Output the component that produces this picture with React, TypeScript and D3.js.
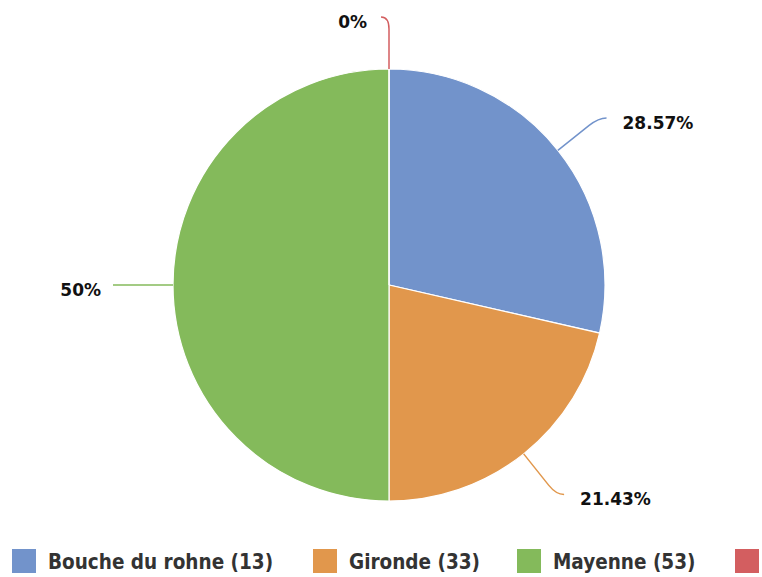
import React, { useEffect, useRef } from 'react';
import * as d3 from 'd3';

// slice data, clockwise from the top
const categories = ['Bouche du rohne (13)', 'Gironde (33)', 'Mayenne (53)', 'Autre'];
const counts = [4, 3, 7, 0];
const percentLabels = ['28.57%', '21.43%', '50%', '0%'];
const colors = ['#7293CB', '#E1974C', '#84BA5B', '#D35E60'];
// which side each label sits on (1 = right, -1 = left)
const labelSides = [1, 1, -1, -1];

const WIDTH = 762;
const HEIGHT = 577;

/* PieChart: draws the pie, the curved connectors and the legend into one svg */
function PieChart() {
  const ref = useRef<SVGSVGElement>(null);

  useEffect(() => {
    const svg = d3.select(ref.current);
    svg.selectAll('*').remove();

    const cx = 389, cy = 285, r = 216;
    const g = svg.append('g').attr('transform', `translate(${cx},${cy})`);

    const data = categories.map((c, i) => ({ name: c, value: counts[i], index: i }));
    const pie = d3.pie<any>().sort(null).value((d) => d.value);
    const arcs = pie(data);
    const arc = d3.arc<any>().innerRadius(0).outerRadius(r);

    g.selectAll('path.slice')
      .data(arcs)
      .enter()
      .append('path')
      .attr('class', 'slice')
      .attr('d', arc)
      .attr('fill', (d) => colors[d.index])
      .attr('stroke', '#fff')
      .attr('stroke-width', 1.2);

    // connectors: radial segment then a short curl towards the label
    const pt = (a: number, rad: number) => [Math.sin(a) * rad, -Math.cos(a) * rad];
    arcs.forEach((d, i) => {
      const a = (d.startAngle + d.endAngle) / 2;
      const side = labelSides[i];
      const straight = Math.abs(Math.cos(a)) < 0.01;
      const p0 = pt(a, r);
      const p1 = pt(a, r + 40);
      const pc = pt(a, r + 52);
      const p2 = straight ? pt(a, r + 60) : [pc[0] + side * 8, pc[1]];
      const path = straight
        ? `M${p0[0]},${p0[1]}L${p2[0]},${p2[1]}`
        : `M${p0[0]},${p0[1]}L${p1[0]},${p1[1]}Q${pc[0]},${pc[1]} ${p2[0]},${p2[1]}`;
      g.append('path')
        .attr('d', path)
        .attr('fill', 'none')
        .attr('stroke', colors[i])
        .attr('stroke-width', 1.5);

      g.append('text')
        .attr('x', p2[0] + side * (straight ? 12 : side > 0 ? 16 : 14))
        .attr('y', p2[1] + 5)
        .attr('dy', '0.35em')
        .attr('text-anchor', side > 0 ? 'start' : 'end')
        .attr('font-family', 'DejaVu Sans')
        .attr('font-weight', 'bold')
        .attr('font-size', 17)
        .attr('fill', '#111')
        .text(percentLabels[i]);
    });

    // legend along the bottom
    const legendX = [12, 313, 517, 735];
    const legend = svg.append('g');
    categories.forEach((c, i) => {
      const item = legend.append('g').attr('transform', `translate(${legendX[i]},549)`);
      item.append('rect').attr('width', 24).attr('height', 24).attr('fill', colors[i]);
      if (i < 3) {
        item.append('text')
          .attr('x', 36)
          .attr('y', 13)
          .attr('dy', '0.35em')
          .attr('font-family', 'DejaVu Sans Condensed')
          .attr('font-stretch', 'condensed')
          .attr('font-weight', 'bold')
          .attr('font-size', 20.5)
          .attr('fill', '#333')
          .text(c);
      }
    });
  }, []);

  return <svg ref={ref} width={WIDTH} height={HEIGHT} style={{ display: 'block' }} />;
}

export default function App() {
  return (
    <div style={{ position: 'fixed', left: 0, top: 0, background: '#fff' }}>
      <PieChart />
    </div>
  );
}
